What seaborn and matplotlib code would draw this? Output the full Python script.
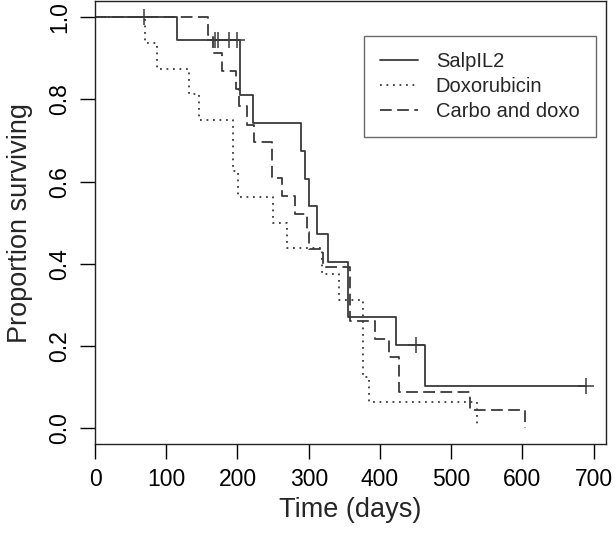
import matplotlib
matplotlib.use("Agg")
import matplotlib.pyplot as plt
import pandas as pd
import seaborn as sns

# Kaplan-Meier steps: day of each drop and the level after it
salp_time = [0, 115, 204, 222, 289, 295, 301, 311, 327, 355, 423, 463, 689]
salp_surv = [1.0, 0.944, 0.810, 0.742, 0.675, 0.607, 0.540, 0.472, 0.405, 0.270, 0.202, 0.101, 0.101]
salp_cens_time = [69, 168, 172, 188, 199, 451, 689]
salp_cens_surv = [1.0, 0.944, 0.944, 0.944, 0.944, 0.202, 0.101]

doxo_time = [0, 70, 87, 132, 146, 194, 201, 250, 269, 319, 343, 376, 385, 536]
doxo_surv = [1.0, 0.9375, 0.875, 0.8125, 0.75, 0.625, 0.5625, 0.5, 0.4375, 0.375, 0.3125, 0.125, 0.0625, 0.0]

carbo_time = [0, 159, 166, 178, 198, 202, 213, 223, 249, 262, 281, 297, 301, 320, 358, 393, 413, 427, 526, 603]
carbo_surv = [1.0, 0.957, 0.913, 0.870, 0.826, 0.783, 0.739, 0.696, 0.609, 0.565, 0.522, 0.478, 0.435, 0.391,
              0.261, 0.217, 0.174, 0.087, 0.043, 0.0]

x_ticks = [0, 100, 200, 300, 400, 500, 600, 700]
y_ticks = [0.0, 0.2, 0.4, 0.6, 0.8, 1.0]
y_tick_labels = ["0.0", "0.2", "0.4", "0.6", "0.8", "1.0"]

sns.set_style("ticks")
plt.rcParams['font.family'] = ['Liberation Sans', 'DejaVu Sans']

col = '#3a3a3a'
fig = plt.figure(figsize=(6.16, 5.41), dpi=100)
ax = fig.add_axes([95 / 616, 1 - 444.4 / 541, 510.8 / 616, 443.5 / 541])

curves = [
    ("SalpIL2", salp_time, salp_surv, '-'),
    ("Doxorubicin", doxo_time, doxo_surv, (0, (1, 2.6))),
    ("Carbo and doxo", carbo_time, carbo_surv, (0, (6.5, 3))),
]
for name, t, s, ls in curves:
    df = pd.DataFrame({'time': t, 'surv': s})
    sns.lineplot(data=df, x='time', y='surv', ax=ax, estimator=None, drawstyle='steps-post',
                 color=col, lw=1.3, linestyle=ls, label=name)

cens = pd.DataFrame({'time': salp_cens_time, 'surv': salp_cens_surv})
sns.scatterplot(data=cens, x='time', y='surv', ax=ax, marker='+', s=140, color=col,
                linewidth=1.1, legend=False, zorder=3)

ax.set_xlim(0, 717)
ax.set_ylim(-0.04, 1.04)
ax.set_xticks(x_ticks)
ax.set_yticks(y_ticks)
ax.set_yticklabels(y_tick_labels)
ax.tick_params(direction='out', length=11, width=1, labelsize=16.5, pad=6, colors='black')
ax.tick_params(axis='y', labelrotation=90)
for lbl in ax.get_yticklabels():
    lbl.set_va('center')
for sp in ax.spines.values():
    sp.set_visible(True)
    sp.set_color('#222222')
    sp.set_linewidth(1)

ax.set_xlabel('Time (days)', fontsize=19.5, labelpad=4)
ax.set_ylabel('Proportion surviving', fontsize=19.5, labelpad=11)

leg = ax.legend(loc='upper right', bbox_to_anchor=(0.98, 0.92), fontsize=14.5, frameon=True,
                fancybox=False, handlelength=1.85, handletextpad=0.9, labelspacing=0.28,
                borderpad=0.8, borderaxespad=0)
leg.get_frame().set_edgecolor('#444444')
leg.get_frame().set_linewidth(1)

fig.savefig('out.png', dpi=100)
